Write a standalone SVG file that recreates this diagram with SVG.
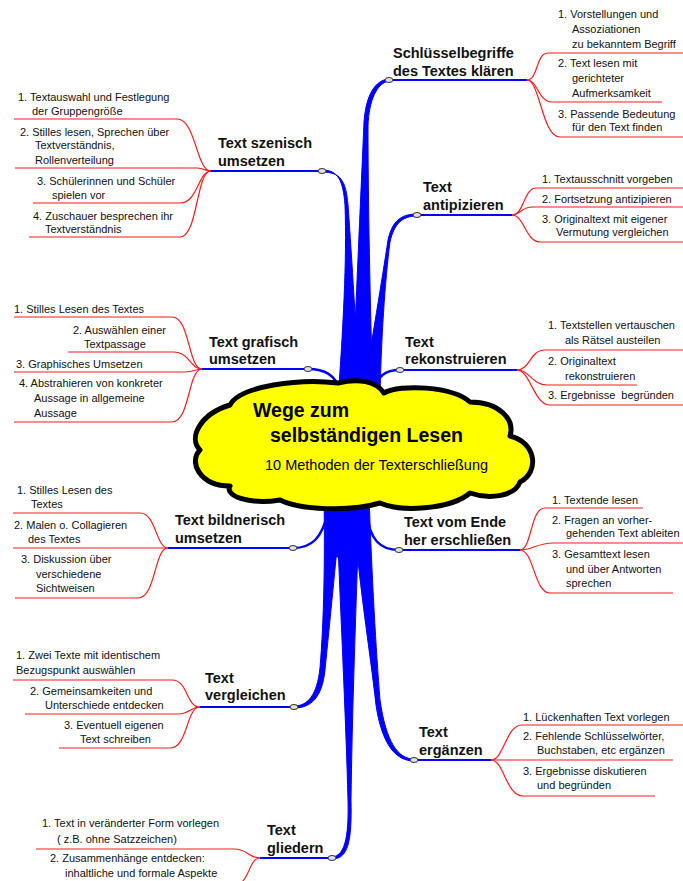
<svg xmlns="http://www.w3.org/2000/svg" width="683" height="881" viewBox="0 0 683 881">
<style>
.bg{fill:#ffffff}
.trunk{fill:#0000ff;stroke:#0000ff;stroke-width:1}
.thin{fill:none;stroke:#0000ff;stroke-width:2.5}
.hl{fill:none;stroke:#0000ff;stroke-width:2}
.red{fill:none;stroke:#ff1a1a;stroke-width:1.2}
.node{fill:#e0e0e0;stroke:#333333;stroke-width:1}
.cloud{fill:#ffff00;stroke:#000000;stroke-width:5;stroke-linejoin:round}
.lbl{font-family:"Liberation Sans",Arial,sans-serif;font-size:14.5px;font-weight:bold;fill:#111111}
.it{font-family:"Liberation Sans",Arial,sans-serif;font-size:11px;fill:#111111;white-space:pre}
.t1{font-family:"Liberation Sans",Arial,sans-serif;font-size:19.5px;font-weight:bold;fill:#000000}
.t2{font-family:"Liberation Sans",Arial,sans-serif;font-size:14.5px;fill:#000000}
</style>
<rect class="bg" x="0" y="0" width="683" height="881"/>

<g id="connectors">
  <!-- blue tapered branches -->
  <path class="trunk" d="M 352,400 C 356,300 362,170 364,122 C 366,95 375,80 389,79 L 389,81 C 377,83 369,100 368,126 C 368,200 370,300 373,400 Z"/>
  <path class="trunk" d="M 322,170 C 338,170 343,180 345,205 C 347,260 343,330 338,400 L 360,400 C 356,330 352,260 348,205 C 346,180 340,172 322,172 Z"/>
  <path class="trunk" d="M 417,214 C 400,214 392,222 388,240 C 382,280 372,340 362,400 L 380,400 C 381,340 385,280 390,242 C 394,224 402,216 417,216 Z"/>
  <path class="thin" d="M 308,369 C 325,369 335,375 340,390"/>
  <path class="thin" d="M 400,370 C 385,370 378,376 374,390"/>
  <path class="trunk" d="M 324,495 C 325,560 324,620 320,668 C 317,695 308,706 294,706 L 294,708 C 311,708 322,698 325,670 C 330,620 336,560 342,495 Z"/>
  <path class="trunk" d="M 336,495 C 340,600 346,720 348,800 C 349,840 344,856 332,857 L 332,859 C 348,859 352,842 351,800 C 352,720 356,600 360,495 Z"/>
  <path class="trunk" d="M 352,495 C 358,580 370,650 376,705 C 382,745 396,761 414,761 L 414,759 C 398,759 386,742 380,700 C 376,650 372,580 369,495 Z"/>
  <rect class="trunk" x="326" y="495" width="42" height="62"/>
  <path class="thin" d="M 293,548 C 312,548 322,538 328,512"/>
  <path class="thin" d="M 399,550 C 380,550 370,540 366,512"/>

  <!-- horizontal blue lines -->
  <path class="hl" d="M 389,80 H 527"/>
  <path class="hl" d="M 417,215 H 512"/>
  <path class="hl" d="M 400,370 H 517"/>
  <path class="hl" d="M 399,550 H 520"/>
  <path class="hl" d="M 414,760 H 491"/>
  <path class="hl" d="M 211,171 H 322"/>
  <path class="hl" d="M 202,369 H 308"/>
  <path class="hl" d="M 168,548 H 293"/>
  <path class="hl" d="M 200,707 H 294"/>
  <path class="hl" d="M 260,858 H 332"/>

  <!-- red fans right -->
  <path class="red" d="M 527,80 C 538,80 536,53 548,53 H 683"/>
  <path class="red" d="M 527,80 C 538,80 538,102 552,102 H 662"/>
  <path class="red" d="M 527,80 C 540,80 542,137 560,137 H 683"/>
  <path class="red" d="M 512,215 C 524,215 524,188 536,188 H 683"/>
  <path class="red" d="M 512,215 C 520,215 522,207 532,207 H 683"/>
  <path class="red" d="M 512,215 C 524,215 526,242 540,242 H 683"/>
  <path class="red" d="M 517,370 C 530,370 530,350 545,350 H 683"/>
  <path class="red" d="M 517,370 C 530,370 532,385 547,385 H 637"/>
  <path class="red" d="M 517,370 C 530,370 534,405 550,405 H 683"/>
  <path class="red" d="M 520,550 C 532,550 530,508 545,508 H 643"/>
  <path class="red" d="M 520,550 C 532,550 538,543 553,543 H 683"/>
  <path class="red" d="M 520,550 C 534,550 534,593 550,593 H 673"/>
  <path class="red" d="M 491,760 C 504,760 506,725 522,725 H 683"/>
  <path class="red" d="M 491,760 H 673"/>
  <path class="red" d="M 491,760 C 504,760 506,796 523,796 H 655"/>

  <!-- red fans left -->
  <path class="red" d="M 211,171 C 196,171 196,119 177,119 H 14"/>
  <path class="red" d="M 211,171 C 205,171 204,168 197,168 H 15"/>
  <path class="red" d="M 211,171 C 198,171 198,203 180,203 H 33"/>
  <path class="red" d="M 211,171 C 196,171 198,237 180,237 H 29"/>
  <path class="red" d="M 202,369 C 188,369 190,317 172,317 H 14"/>
  <path class="red" d="M 202,369 C 190,369 190,352 173,352 H 68"/>
  <path class="red" d="M 202,369 C 196,369 194,372 185,372 H 14"/>
  <path class="red" d="M 202,369 C 188,369 190,422 172,422 H 14"/>
  <path class="red" d="M 168,548 C 156,548 156,513 140,513 H 13"/>
  <path class="red" d="M 168,548 H 13"/>
  <path class="red" d="M 168,548 C 154,548 156,598 138,598 H 15"/>
  <path class="red" d="M 200,707 C 186,707 188,680 172,680 H 13"/>
  <path class="red" d="M 200,707 C 190,707 190,714 178,714 H 25"/>
  <path class="red" d="M 200,707 C 186,707 188,748 170,748 H 59"/>
  <path class="red" d="M 260,858 C 248,858 248,849 234,849 H 36"/>
  <path class="red" d="M 260,858 C 248,858 250,886 232,886 H 40"/>
</g>

<g id="main">
  <path class="cloud" d="M 230,405 C 240,386 300,378 338,383 C 358,378 376,381 384,393 C 400,384 452,386 470,402 C 500,402 515,420 510,436 C 536,442 540,472 520,482 C 515,496 490,500 470,493 C 450,510 400,512 380,503 C 350,512 300,510 280,500 C 250,505 224,496 230,486 C 200,486 188,462 200,450 C 188,438 200,414 230,405 Z"/>
  <text class="t1" x="253" y="417">Wege zum</text>
  <text class="t1" x="270" y="442">selbständigen Lesen</text>
  <text class="t2" x="265" y="470">10 Methoden der Texterschließung</text>
</g>

<g id="n1">
  <text class="lbl" x="393" y="58">Schlüsselbegriffe</text>
  <text class="lbl" x="393" y="76">des Textes klären</text>
  <text class="it" x="558" y="18">1. Vorstellungen und</text>
  <text class="it" x="572" y="33">Assoziationen</text>
  <text class="it" x="572" y="48">zu bekanntem Begriff</text>
  <text class="it" x="558" y="67">2. Text lesen mit</text>
  <text class="it" x="572" y="82">gerichteter</text>
  <text class="it" x="572" y="97">Aufmerksamkeit</text>
  <text class="it" x="558" y="118">3. Passende Bedeutung</text>
  <text class="it" x="572" y="131">für den Text finden</text>
</g>
<g id="n2">
  <text class="lbl" x="423" y="192">Text</text>
  <text class="lbl" x="423" y="210">antipizieren</text>
  <text class="it" x="542" y="183">1. Textausschnitt vorgeben</text>
  <text class="it" x="542" y="203">2. Fortsetzung antizipieren</text>
  <text class="it" x="542" y="223">3. Originaltext mit eigener</text>
  <text class="it" x="556" y="236">Vermutung vergleichen</text>
</g>
<g id="n3">
  <text class="lbl" x="405" y="347">Text</text>
  <text class="lbl" x="405" y="364">rekonstruieren</text>
  <text class="it" x="548" y="329">1. Textstellen vertauschen</text>
  <text class="it" x="565" y="344">als Rätsel austeilen</text>
  <text class="it" x="548" y="365">2. Originaltext</text>
  <text class="it" x="565" y="380">rekonstruieren</text>
  <text class="it" x="548" y="399">3. Ergebnisse  begründen</text>
</g>
<g id="n4">
  <text class="lbl" x="404" y="527">Text vom Ende</text>
  <text class="lbl" x="404" y="545">her erschließen</text>
  <text class="it" x="552" y="504">1. Textende lesen</text>
  <text class="it" x="552" y="524">2. Fragen an vorher-</text>
  <text class="it" x="566" y="537">gehenden Text ableiten</text>
  <text class="it" x="552" y="558">3. Gesamttext lesen</text>
  <text class="it" x="566" y="573">und über Antworten</text>
  <text class="it" x="566" y="587">sprechen</text>
</g>
<g id="n5">
  <text class="lbl" x="419" y="737">Text</text>
  <text class="lbl" x="419" y="755">ergänzen</text>
  <text class="it" x="523" y="721">1. Lückenhaften Text vorlegen</text>
  <text class="it" x="523" y="740">2. Fehlende Schlüsselwörter,</text>
  <text class="it" x="537" y="754">Buchstaben, etc ergänzen</text>
  <text class="it" x="523" y="775">3. Ergebnisse diskutieren</text>
  <text class="it" x="537" y="789">und begründen</text>
</g>
<g id="n6">
  <text class="lbl" x="218" y="148">Text szenisch</text>
  <text class="lbl" x="218" y="166">umsetzen</text>
  <text class="it" x="18" y="101">1. Textauswahl und Festlegung</text>
  <text class="it" x="32" y="115">der Gruppengröße</text>
  <text class="it" x="20" y="136">2. Stilles lesen, Sprechen über</text>
  <text class="it" x="35" y="149">Textverständnis,</text>
  <text class="it" x="35" y="164">Rollenverteilung</text>
  <text class="it" x="37" y="185">3. Schülerinnen und Schüler</text>
  <text class="it" x="52" y="199">spielen vor</text>
  <text class="it" x="33" y="220">4. Zuschauer besprechen ihr</text>
  <text class="it" x="45" y="233">Textverständnis</text>
</g>
<g id="n7">
  <text class="lbl" x="209" y="347">Text grafisch</text>
  <text class="lbl" x="209" y="364">umsetzen</text>
  <text class="it" x="14" y="313">1. Stilles Lesen des Textes</text>
  <text class="it" x="73" y="334">2. Auswählen einer</text>
  <text class="it" x="84" y="348">Textpassage</text>
  <text class="it" x="16" y="368">3. Graphisches Umsetzen</text>
  <text class="it" x="19" y="387">4. Abstrahieren von konkreter</text>
  <text class="it" x="34" y="402">Aussage in allgemeine</text>
  <text class="it" x="34" y="417">Aussage</text>
</g>
<g id="n8">
  <text class="lbl" x="175" y="525">Text bildnerisch</text>
  <text class="lbl" x="175" y="543">umsetzen</text>
  <text class="it" x="17" y="494">1. Stilles Lesen des</text>
  <text class="it" x="31" y="508">Textes</text>
  <text class="it" x="14" y="529">2. Malen o. Collagieren</text>
  <text class="it" x="28" y="543">des Textes</text>
  <text class="it" x="21" y="563">3. Diskussion über</text>
  <text class="it" x="36" y="578">verschiedene</text>
  <text class="it" x="36" y="592">Sichtweisen</text>
</g>
<g id="n9">
  <text class="lbl" x="205" y="683">Text</text>
  <text class="lbl" x="205" y="700">vergleichen</text>
  <text class="it" x="16" y="659">1. Zwei Texte mit identischem</text>
  <text class="it" x="16" y="674">Bezugspunkt auswählen</text>
  <text class="it" x="30" y="695">2. Gemeinsamkeiten und</text>
  <text class="it" x="45" y="709">Unterschiede entdecken</text>
  <text class="it" x="64" y="729">3. Eventuell eigenen</text>
  <text class="it" x="80" y="743">Text schreiben</text>
</g>
<g id="n10">
  <text class="lbl" x="267" y="835">Text</text>
  <text class="lbl" x="267" y="853">gliedern</text>
  <text class="it" x="42" y="827">1. Text in veränderter Form vorlegen</text>
  <text class="it" x="57" y="843">( z.B. ohne Satzzeichen)</text>
  <text class="it" x="50" y="862">2. Zusammenhänge entdecken:</text>
  <text class="it" x="65" y="877">inhaltliche und formale Aspekte</text>
</g>

<g id="nodes">
  <ellipse class="node" cx="389" cy="80" rx="4" ry="2.5"/>
  <ellipse class="node" cx="417" cy="215" rx="4" ry="2.5"/>
  <ellipse class="node" cx="400" cy="370" rx="4" ry="2.5"/>
  <ellipse class="node" cx="399" cy="550" rx="4" ry="2.5"/>
  <ellipse class="node" cx="414" cy="760" rx="4" ry="2.5"/>
  <ellipse class="node" cx="322" cy="171" rx="4" ry="2.5"/>
  <ellipse class="node" cx="308" cy="369" rx="4" ry="2.5"/>
  <ellipse class="node" cx="293" cy="548" rx="4" ry="2.5"/>
  <ellipse class="node" cx="294" cy="707" rx="4" ry="2.5"/>
  <ellipse class="node" cx="332" cy="858" rx="4" ry="2.5"/>
</g>
</svg>
